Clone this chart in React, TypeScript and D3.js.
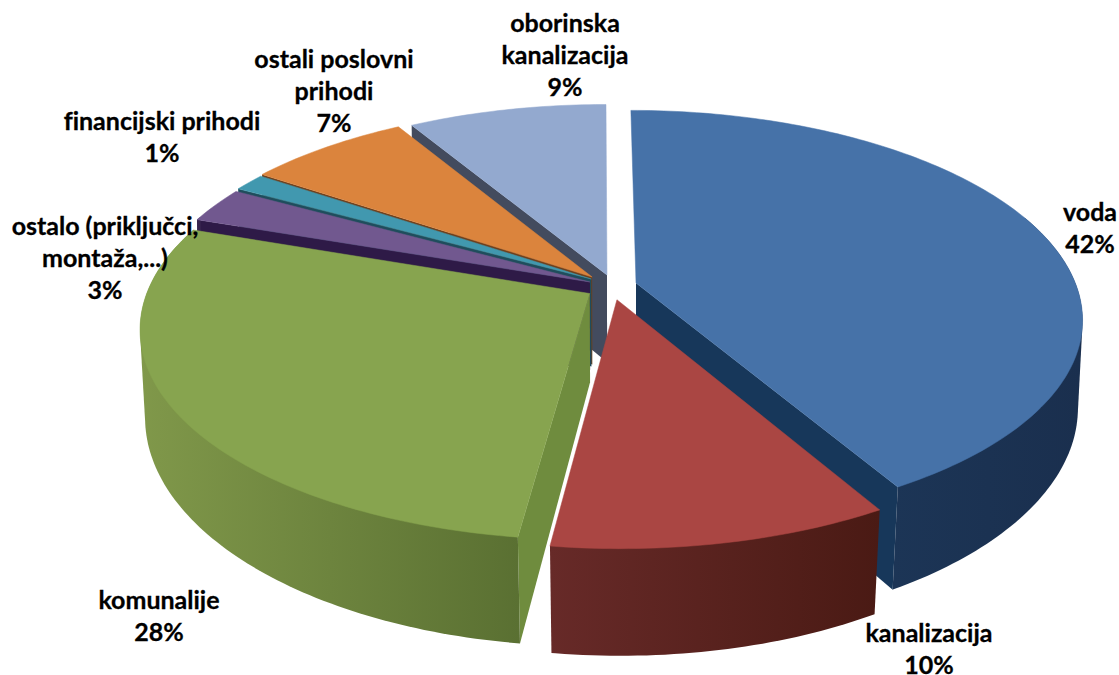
import React from "react";
import * as d3 from "d3";

const categories = ["voda", "kanalizacija", "komunalije", "ostalo (priključci, montaža,...)", "financijski prihodi", "ostali poslovni prihodi", "oborinska kanalizacija"];
const values = [41.7, 10.4, 28.2, 2.8, 1.4, 7.0, 8.5];
const topColors = ["#4672a8", "#aa4643", "#87a44f", "#71588f", "#4198af", "#db843d", "#93a9cf"];
const radialWallColors = ["#17375a", "#4a1a14", "#6f8c3e", "#2e1a47", "#1f4d5c", "#6e3f1c", "#434b5e"];
const outerWallLeft = ["#1c3556", "#672a28", "#80984a", "#38254f", "#205a68", "#7a4a20", "#4a5a78"];
const outerWallRight = ["#1a2f4e", "#4a1a14", "#5a7032", "#38254f", "#205a68", "#7a4a20", "#4a5a78"];
// Explosion of every slice, in disc radii (right, towards the viewer).
const shiftX = [0.082, 0.038, -0.023, -0.023, -0.02, -0.018, 0.016];
const shiftY = [-0.01, 0.072, 0.042, -0.015, -0.03, -0.04, -0.05];
const paintOrder = [6, 5, 4, 3, 2, 0, 1];

const labelLines = [
  ["voda"],
  ["kanalizacija"],
  ["komunalije"],
  ["ostalo (priključci,", "montaža,...)"],
  ["financijski prihodi"],
  ["ostali poslovni", "prihodi"],
  ["oborinska", "kanalizacija"],
];
const labelX = [1090, 929, 159, 105, 162, 334, 565];
const labelBaseline = [221, 642, 609, 235, 130, 68, 32];

const CX = 600, CY = 285, RX = 440, RY = 202, PERSP = 6, DEPTH = 88, VX = 620;

type Pt = [number, number];
const project = (X: number, Y: number, bottom = false): Pt => {
  const s = PERSP / (PERSP - Y);
  let x = CX + RX * X * s;
  let y = CY + RY * Y * s;
  if (bottom) {
    const k = Math.max(0.005, 0.008 + 0.0125 * Y);
    x = x + k * (VX - x);
    y = y + DEPTH * s;
  }
  return [x, y];
};

const pieGen = d3.pie<number>().sort(null).startAngle(0).endAngle(2 * Math.PI);
const arcs = pieGen(values);
const toPath = (pts: Pt[]) => d3.line()(pts) + "Z";

function Slice({ i }: { i: number }) {
  const a = arcs[i];
  const sx = shiftX[i], sy = shiftY[i];
  const rim = (t: number, bottom = false) => project(sx + Math.sin(t), sy - Math.cos(t), bottom);
  const apex = (bottom = false) => project(sx, sy, bottom);
  const steps = d3.range(a.startAngle, a.endAngle, Math.PI / 180).concat(a.endAngle);
  const topPts: Pt[] = [apex(), ...steps.map((t) => rim(t))];

  const radial: Pt[][] = [];
  if (-Math.cos(a.startAngle - Math.PI / 2) > 0.01) {
    radial.push([apex(), rim(a.startAngle), rim(a.startAngle, true), apex(true)]);
  }
  if (-Math.cos(a.endAngle + Math.PI / 2) > 0.01) {
    radial.push([apex(), rim(a.endAngle), rim(a.endAngle, true), apex(true)]);
  }
  const front = steps.filter((t) => -Math.cos(t) > -0.35);
  const wallPts: Pt[] = [...front.map((t) => rim(t)), ...front.map((t) => rim(t, true))];
  const hull = front.length > 1 ? d3.polygonHull(wallPts) : null;
  const xs = wallPts.map((p) => p[0]);
  const gid = `wall${i}`;
  return (
    <g>
      {radial.map((r, k) => (
        <path key={k} d={toPath(r)} fill={radialWallColors[i]} />
      ))}
      {hull && (
        <>
          <linearGradient id={gid} gradientUnits="userSpaceOnUse" x1={d3.min(xs)} x2={d3.max(xs)} y1={0} y2={0}>
            <stop offset="0" stopColor={outerWallLeft[i]} />
            <stop offset="1" stopColor={outerWallRight[i]} />
          </linearGradient>
          <path d={toPath(hull as Pt[])} fill={`url(#${gid})`} />
        </>
      )}
      <path d={toPath(topPts)} fill={topColors[i]} stroke={topColors[i]} strokeWidth={0.5} />
    </g>
  );
}

export default function App() {
  return (
    <svg width={1119} height={675} style={{ position: "absolute", left: 0, top: 0, background: "#fff" }}>
      {paintOrder.map((i) => (
        <Slice key={i} i={i} />
      ))}
      {categories.map((c, i) => {
        const lines = [...labelLines[i], `${Math.round(values[i])}%`];
        return (
          <text
            key={c}
            textAnchor="middle"
            fontFamily="Lato, 'Open Sans', sans-serif"
            fontWeight={700}
            fontSize={25}
            fill="#000"
            stroke="#000"
            strokeWidth={0.3}
            style={{ fontVariantLigatures: "none" }}
          >
            {lines.map((l, k) => (
              <tspan key={k} x={labelX[i]} y={labelBaseline[i] + k * 32}>
                {l}
              </tspan>
            ))}
          </text>
        );
      })}
    </svg>
  );
}
